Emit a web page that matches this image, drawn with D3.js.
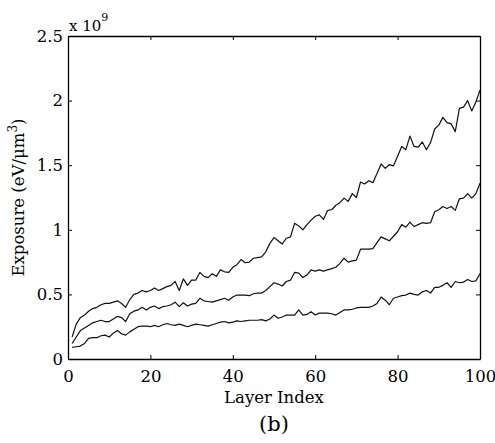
<!DOCTYPE html>
<html>
<head>
<meta charset="utf-8">
<script src="https://cdn.jsdelivr.net/npm/d3@7"></script>
<style>
  body { margin: 0; background: #fff; }
  svg { display: block; }
  svg text { font-family: "Century Schoolbook L", "C059", "DejaVu Serif", "Liberation Serif", "Times New Roman", serif; fill: #000; }
</style>
</head>
<body>
<svg id="chart" width="495" height="443"></svg>
<script>
// exposure per layer, in units of 1e9 eV/um^3
const layers = d3.range(1, 101);

const highDose = [
  0.17, 0.27, 0.32, 0.34, 0.37, 0.39, 0.40, 0.42, 0.43, 0.43,
  0.44, 0.45, 0.43, 0.40, 0.46, 0.50, 0.51, 0.53, 0.52, 0.53,
  0.55, 0.53, 0.545, 0.56, 0.57, 0.60, 0.53, 0.62, 0.57, 0.61,
  0.61, 0.67, 0.64, 0.63, 0.66, 0.64, 0.69, 0.675, 0.67, 0.71,
  0.73, 0.77, 0.745, 0.75, 0.78, 0.785, 0.79, 0.83, 0.895, 0.94,
  0.915, 0.89, 0.935, 0.945, 1.05, 1.03, 1.00, 1.04, 1.075, 1.105,
  1.115, 1.08, 1.15, 1.155, 1.19, 1.21, 1.245, 1.22, 1.28, 1.25,
  1.37, 1.355, 1.38, 1.365, 1.435, 1.51, 1.475, 1.505, 1.495, 1.57,
  1.645, 1.62, 1.725, 1.645, 1.64, 1.68, 1.62, 1.675, 1.78, 1.81,
  1.87, 1.83, 1.82, 1.76, 1.94, 1.95, 2.00, 1.92, 1.99, 2.08
];

const midDose = [
  0.12, 0.17, 0.22, 0.24, 0.26, 0.28, 0.29, 0.30, 0.29, 0.29,
  0.31, 0.33, 0.32, 0.29, 0.35, 0.37, 0.38, 0.40, 0.38, 0.40,
  0.41, 0.39, 0.405, 0.41, 0.42, 0.44, 0.405, 0.435, 0.41, 0.425,
  0.43, 0.47, 0.45, 0.445, 0.44, 0.45, 0.46, 0.47, 0.455, 0.48,
  0.495, 0.495, 0.495, 0.49, 0.505, 0.51, 0.51, 0.53, 0.56, 0.59,
  0.58, 0.565, 0.60, 0.61, 0.67, 0.665, 0.63, 0.65, 0.69, 0.68,
  0.69, 0.68, 0.69, 0.70, 0.71, 0.74, 0.78, 0.75, 0.76, 0.765,
  0.85, 0.85, 0.85, 0.855, 0.90, 0.945, 0.93, 0.915, 0.95, 0.985,
  1.04, 1.02, 1.06, 1.025, 1.04, 1.055, 1.05, 1.055, 1.14, 1.155,
  1.18, 1.165, 1.18, 1.15, 1.24, 1.245, 1.28, 1.245, 1.28, 1.36
];

const lowDose = [
  0.09, 0.095, 0.10, 0.12, 0.16, 0.165, 0.165, 0.18, 0.185, 0.17,
  0.20, 0.22, 0.195, 0.185, 0.21, 0.23, 0.25, 0.255, 0.255, 0.25,
  0.26, 0.25, 0.265, 0.275, 0.265, 0.26, 0.27, 0.26, 0.25, 0.26,
  0.27, 0.265, 0.26, 0.255, 0.265, 0.275, 0.285, 0.29, 0.28, 0.285,
  0.295, 0.29, 0.295, 0.30, 0.30, 0.30, 0.305, 0.295, 0.31, 0.34,
  0.315, 0.325, 0.34, 0.34, 0.34, 0.38, 0.34, 0.345, 0.365, 0.34,
  0.355, 0.355, 0.355, 0.35, 0.34, 0.36, 0.38, 0.38, 0.385, 0.395,
  0.40, 0.40, 0.40, 0.41, 0.43, 0.48, 0.455, 0.42, 0.47, 0.48,
  0.49, 0.495, 0.51, 0.50, 0.495, 0.52, 0.53, 0.51, 0.555, 0.555,
  0.57, 0.59, 0.555, 0.60, 0.59, 0.595, 0.615, 0.60, 0.605, 0.66
];

const xTicks = [0, 20, 40, 60, 80, 100];
const yTicks = [0, 0.5, 1, 1.5, 2, 2.5];

const margin = {left: 68, right: 15, top: 36, bottom: 84};
const width = 495, height = 443;

const svg = d3.select("#chart");

const x = d3.scaleLinear().domain([0, 100]).range([margin.left, width - margin.right]);
const y = d3.scaleLinear().domain([0, 2.5]).range([height - margin.bottom, margin.top]);

const line = d3.line()
  .x((d, i) => x(layers[i]))
  .y(d => y(d));

// data lines
svg.append("g")
  .selectAll("path")
  .data([highDose, midDose, lowDose])
  .join("path")
    .attr("fill", "none")
    .attr("stroke", "#111")
    .attr("stroke-width", 1.2)
    .attr("stroke-linejoin", "round")
    .attr("d", line);

// axes, ticks pointing in like matlab
const fmtY = d => d === 0 ? "0" : d3.format("")(d);

const axBottom = svg.append("g")
  .attr("transform", `translate(0,${y(0)})`)
  .call(d3.axisBottom(x).tickValues(xTicks).tickSizeInner(-4).tickSizeOuter(0).tickPadding(11));
const axTop = svg.append("g")
  .attr("transform", `translate(0,${y(2.5)})`)
  .call(d3.axisTop(x).tickValues(xTicks).tickSizeInner(-4).tickSizeOuter(0).tickFormat(""));
const axLeft = svg.append("g")
  .attr("transform", `translate(${x(0)},0)`)
  .call(d3.axisLeft(y).tickValues(yTicks).tickSizeInner(-4).tickSizeOuter(0).tickPadding(5).tickFormat(fmtY));
const axRight = svg.append("g")
  .attr("transform", `translate(${x(100)},0)`)
  .call(d3.axisRight(y).tickValues(yTicks).tickSizeInner(-4).tickSizeOuter(0).tickFormat(""));

[axBottom, axTop, axLeft, axRight].forEach(a => {
  a.attr("font-family", null).attr("font-size", null);
  a.selectAll(".domain").attr("stroke", "#000").attr("stroke-width", 1.3);
  a.selectAll(".tick line").attr("stroke", "#000");
  a.selectAll("text").style("font-size", "16.5px");
});

// exponent label
const expo = svg.append("text")
  .attr("x", 69)
  .attr("y", 31)
  .style("font-size", "15px");
expo.append("tspan").text("x 10");
expo.append("tspan").attr("dy", -10).style("font-size", "11px").text("9");

// axis titles
svg.append("text")
  .attr("x", x(50))
  .attr("y", 403)
  .attr("text-anchor", "middle")
  .style("font-size", "16.5px")
  .text("Layer Index");

svg.append("text")
  .attr("x", x(50))
  .attr("y", 431)
  .attr("text-anchor", "middle")
  .style("font-size", "21px")
  .text("(b)");

const ylab = svg.append("text")
  .attr("transform", `translate(24,${(y(0) + y(2.5)) / 2}) rotate(-90)`)
  .attr("text-anchor", "middle")
  .style("font-size", "16.5px");
ylab.append("tspan").text("Exposure (eV/\u03bcm");
ylab.append("tspan").attr("dy", -7).style("font-size", "12px").text("3");
ylab.append("tspan").attr("dy", 7).text(")");
</script>
</body>
</html>
